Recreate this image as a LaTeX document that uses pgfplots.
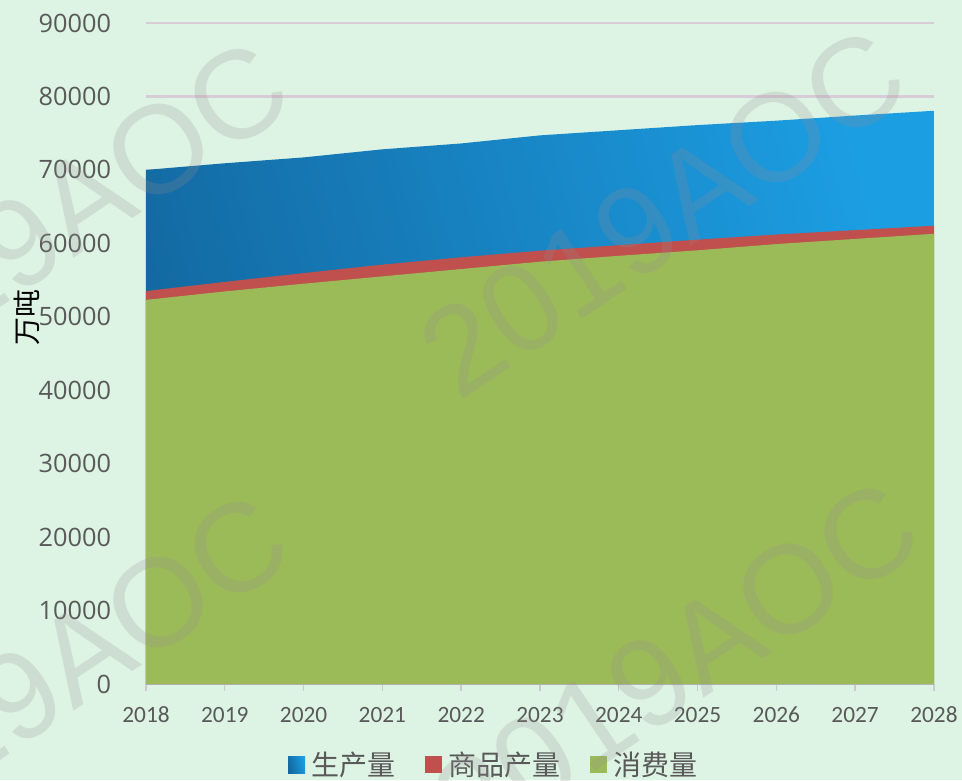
\documentclass[border=0pt]{standalone}
\usepackage{pgfplots}
\pgfplotsset{compat=1.18}
\usepackage{fontspec}
\setmainfont{Open Sans}
\newfontfamily\carl{Carlito}
\newfontfamily\cjk{Noto Sans CJK SC}
\newfontfamily\wm{Liberation Sans}
\definecolor{bgc}{RGB}{221,244,228}
\definecolor{gridc}{RGB}{216,204,216}
\definecolor{axc}{RGB}{205,200,208}
\definecolor{tickc}{RGB}{89,89,89}
\definecolor{greenA}{RGB}{155,187,89}
\definecolor{redA}{RGB}{192,80,77}
\definecolor{blueL}{RGB}{19,104,160}
\definecolor{blueR}{RGB}{28,158,227}
\definecolor{wmc}{RGB}{150,140,145}
\begin{document}
\begin{tikzpicture}
\fill[bgc] (-109.5pt,-72pt) rectangle (612pt,513pt);
\begin{axis}[
  at={(0,0)}, anchor=south west,
  scale only axis, width=591pt, height=495.75pt,
  xmin=2018, xmax=2028, ymin=0, ymax=90000,
  axis x line=bottom, axis y line=left,
  x axis line style={-, draw=axc, line width=1pt},
  y axis line style={draw=none},
  xtick={2018,2019,...,2028},
  ytick={0,10000,...,90000},
  tick align=outside, major tick length=5pt,
  xtick style={draw=axc, line width=1pt},
  ytick style={draw=none},
  ymajorgrids, grid style={draw=gridc, line width=2pt},
  /pgf/number format/1000 sep={},
  /pgf/number format/assume math mode=true,
  scaled y ticks=false,
  yticklabel style={font=\fontsize{19}{19}\selectfont, text=tickc, inner sep=0pt, anchor=east, xshift=-21pt},
  xticklabel style={font=\carl\fontsize{17.5}{17.5}\selectfont, text=tickc, inner sep=0pt, anchor=north, yshift=-12pt},
  ylabel={\cjk 万吨},
  every axis y label/.style={at={(axis description cs:0,0.555)}, xshift=-89.25pt, rotate=90, anchor=center, font=\fontsize{21}{21}\selectfont, text=black},
  legend columns=3,
  legend style={at={(0.4404,-0.1225)}, anchor=center, draw=none, fill=none,
    font=\cjk\fontsize{21}{21}\selectfont, text=tickc,
    nodes={inner sep=0pt},
    /tikz/every odd column/.append style={column sep=5pt},
    /tikz/every even column/.append style={column sep=22pt}},
  legend image code/.code={\fill[#1] (0pt,-6.375pt) rectangle (12.75pt,6.375pt);},
]
\addplot[draw=none, left color=blueL, right color=blueR, shading angle=105] coordinates {
(2018,70000) (2019,70900) (2020,71700) (2021,72800) (2022,73600) (2023,74700)
(2024,75400) (2025,76100) (2026,76700) (2027,77400) (2028,78050)} \closedcycle;
\addlegendentry{生产量}
\addplot[draw=none, fill=redA] coordinates {
(2018,53500) (2019,54750) (2020,55950) (2021,57100) (2022,58100) (2023,59000)
(2024,59750) (2025,60500) (2026,61200) (2027,61800) (2028,62400)} \closedcycle;
\addlegendentry{商品产量}
\addplot[draw=none, fill=greenA] coordinates {
(2018,52300) (2019,53450) (2020,54500) (2021,55500) (2022,56500) (2023,57500)
(2024,58300) (2025,59050) (2026,59900) (2027,60600) (2028,61300)} \closedcycle;
\addlegendentry{消费量}
\end{axis}
\begin{pgfinterruptboundingbox}
\begin{scope}
\clip (-109.5pt,-72pt) rectangle (612pt,513pt);
\begin{scope}[every node/.style={font=\wm\fontsize{94}{94}\selectfont, text=wmc, text opacity=0.22, rotate=34, anchor=center}]
\node at (-75pt,344.25pt) {2019AOC};
\node at (387.75pt,353.25pt) {2019AOC};
\node at (-75pt,4.5pt) {2019AOC};
\node at (397.5pt,14.25pt) {2019AOC};
\end{scope}
\end{scope}
\end{pgfinterruptboundingbox}
\end{tikzpicture}
\end{document}
